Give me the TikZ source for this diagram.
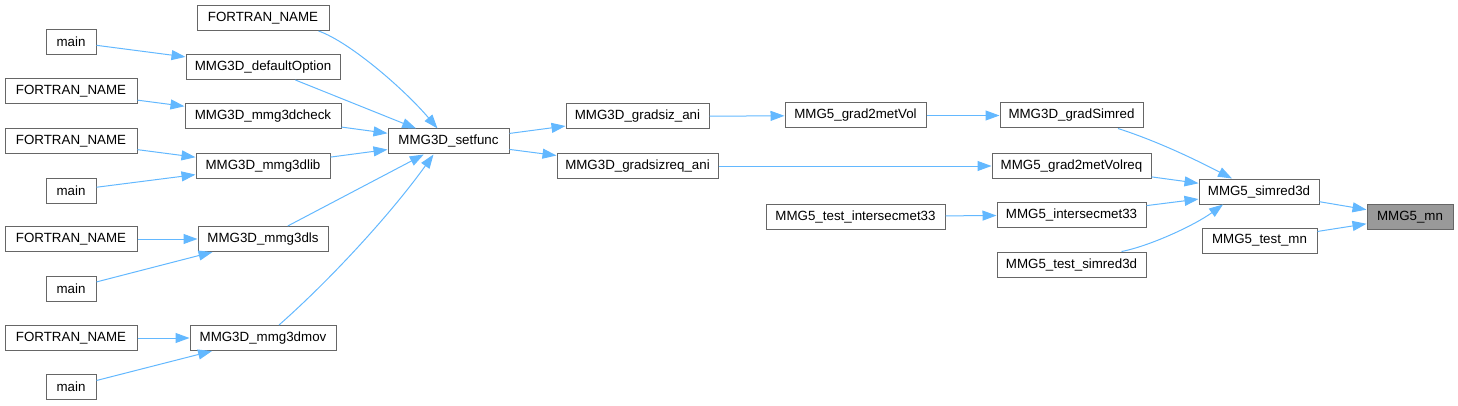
\documentclass[tikz,border=0pt]{standalone}
\usepackage{fontspec}
\setmainfont{Liberation Sans}
\usetikzlibrary{arrows.meta}
\definecolor{edgeblue}{HTML}{63B8FF}
\definecolor{boxgray}{HTML}{666666}
\definecolor{fillgray}{HTML}{999999}
\tikzset{
  fn/.style={draw=boxgray, fill=white, line width=0.75pt, inner sep=0pt,
    minimum height=25*0.75pt, font=\fontsize{10}{12}\selectfont},
  cur/.style={fn, fill=fillgray},
  call/.style={draw=edgeblue, line width=0.75pt,
    -{Triangle[length=10.5pt,width=7.5pt]}}
}
\begin{document}
\begin{tikzpicture}[x=0.75pt,y=-0.75pt]
\useasboundingbox (0,0) rectangle (1458,406);
% column 1
\node[fn, minimum width=50*0.75pt]  (m1) at (71,42) {main};
\node[fn, minimum width=132*0.75pt] (f2) at (71,91.5) {FORTRAN\_NAME};
\node[fn, minimum width=132*0.75pt] (f3) at (71,141) {FORTRAN\_NAME};
\node[fn, minimum width=50*0.75pt]  (m2) at (71,190.5) {main};
\node[fn, minimum width=132*0.75pt] (f4) at (71,239) {FORTRAN\_NAME};
\node[fn, minimum width=50*0.75pt]  (m3) at (71,288.5) {main};
\node[fn, minimum width=132*0.75pt] (f5) at (71,338) {FORTRAN\_NAME};
\node[fn, minimum width=50*0.75pt]  (m4) at (71,387) {main};
% column 2
\node[fn, minimum width=132*0.75pt] (f1) at (263,18) {FORTRAN\_NAME};
\node[fn, minimum width=154*0.75pt] (dop) at (263,67) {MMG3D\_defaultOption};
\node[fn, minimum width=156*0.75pt] (chk) at (263,116.5) {MMG3D\_mmg3dcheck};
\node[fn, minimum width=134*0.75pt] (lib) at (263,166) {MMG3D\_mmg3dlib};
\node[fn, minimum width=130*0.75pt] (dls) at (263,239) {MMG3D\_mmg3dls};
\node[fn, minimum width=146*0.75pt] (mov) at (263,338) {MMG3D\_mmg3dmov};
% column 3
\node[fn, minimum width=121*0.75pt] (set) at (448.5,141.5) {MMG3D\_setfunc};
% column 4
\node[fn, minimum width=143*0.75pt] (gsa) at (637.5,116.5) {MMG3D\_gradsiz\_ani};
\node[fn, minimum width=161*0.75pt] (gsr) at (637.5,166) {MMG3D\_gradsizreq\_ani};
% column 5
\node[fn, minimum width=141*0.75pt] (g2v) at (855.5,115.5) {MMG5\_grad2metVol};
\node[fn, minimum width=179*0.75pt] (tim) at (855.5,216.5) {MMG5\_test\_intersecmet33};
% column 6
\node[fn, minimum width=143*0.75pt] (gsim) at (1071.5,115.5) {MMG3D\_gradSimred};
\node[fn, minimum width=159*0.75pt] (g2r) at (1071.5,166) {MMG5\_grad2metVolreq};
\node[fn, minimum width=149*0.75pt] (ism) at (1071.5,215) {MMG5\_intersecmet33};
\node[fn, minimum width=149*0.75pt] (tsr) at (1071.5,264.5) {MMG5\_test\_simred3d};
% column 7
\node[fn, minimum width=120*0.75pt] (sr) at (1259,191.5) {MMG5\_simred3d};
\node[fn, minimum width=115*0.75pt] (tmn) at (1259.5,240.5) {MMG5\_test\_mn};
% column 8
\node[cur, minimum width=86*0.75pt] (mn) at (1410,217) {MMG5\_mn};
% edges
\draw[call] (m1) -- (dop);
\draw[call] (f2) -- (chk);
\draw[call] (f3) -- (lib);
\draw[call] (m2) -- (lib);
\draw[call] (f4) -- (dls);
\draw[call] (m3) -- (dls);
\draw[call] (f5) -- (mov);
\draw[call] (m4) -- (mov);
\draw[call] ([xshift=-11*0.75pt]f1.south east) .. controls (350,42) and (405,90) .. ([xshift=-11*0.75pt]set.north);
\draw[call] (dop) -- (set);
\draw[call] (chk) -- (set);
\draw[call] (lib) -- (set);
\draw[call] (dls) -- (set);
\draw[call] ([xshift=16*0.75pt]mov.north) .. controls (330,280) and (390,215) .. ([xshift=-15*0.75pt]set.south);
\draw[call] (set) -- (gsa);
\draw[call] (set) -- (gsr);
\draw[call] (gsa) -- (g2v);
\draw[call] (g2v) -- (gsim);
\draw[call] (gsr) -- (g2r);
\draw[call] (tim) -- (ism);
\draw[call] ([xshift=46.5*0.75pt]gsim.south) .. controls (1160,142) and (1200,162) .. ([xshift=-27*0.75pt]sr.north);
\draw[call] (g2r) -- (sr);
\draw[call] (ism) -- (sr);
\draw[call] ([xshift=50*0.75pt]tsr.north) .. controls (1150,246) and (1195,225) .. ([xshift=-36*0.75pt]sr.south);
\draw[call] (sr) -- (mn);
\draw[call] (tmn) -- (mn);
\end{tikzpicture}
\end{document}
